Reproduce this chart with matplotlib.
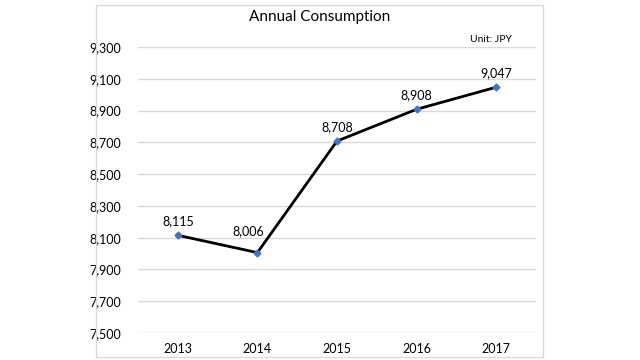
import matplotlib
matplotlib.use("Agg")
import matplotlib.pyplot as plt
from matplotlib.patches import Rectangle

years = ["2013", "2014", "2015", "2016", "2017"]
values = [8115, 8006, 8708, 8908, 9047]
yticks = [7500, 7700, 7900, 8100, 8300, 8500, 8700, 8900, 9100, 9300]

plt.rcParams['font.family'] = ['Lato', 'DejaVu Sans']

fig = plt.figure(figsize=(6.4, 3.6), dpi=100)
fig.patch.set_facecolor('white')
fig.add_artist(Rectangle((95.5/640, 1 - 356.5/360), (543 - 95.5)/640, (356.5 - 4.5)/360,
                         transform=fig.transFigure, fill=False, edgecolor='#d9d9d9', lw=1))

ax = fig.add_axes([138/640, 1 - 333/360, (536 - 138)/640, (333 - 47)/360])
x = list(range(len(years)))
ax.plot(x, values, color='black', lw=2, marker='D', markersize=3.5,
        markerfacecolor='#4472C4', markeredgecolor='#4472C4', zorder=3)
label_offsets = [(0, 6), (-6.5, 11), (0, 6), (0, 6), (0, 6)]
for xi, v, off in zip(x, values, label_offsets):
    ax.annotate(f"{v:,}", (xi, v), xytext=off, textcoords='offset points',
                ha='center', va='bottom', fontsize=9, color='#000000')

ax.set_xlim(-0.5, len(years) - 0.5)
ax.set_ylim(7500, 9300)
ax.set_yticks(yticks)
ax.set_yticklabels([f"{t:,}" for t in yticks])
ax.set_xticks(x)
ax.set_xticklabels(years)
ax.grid(axis='y', color='#d9d9d9', lw=1)
ax.set_axisbelow(True)
for s in ax.spines.values():
    s.set_visible(False)
ax.tick_params(length=0, labelsize=9, colors='#000000')
ax.tick_params(axis='y', pad=12)
ax.tick_params(axis='x', pad=7)

fig.text(320/640, 1 - 17/360, "Annual Consumption", ha='center', va='center', fontsize=11)
fig.text(512/640, 1 - 39/360, "Unit: JPY", ha='right', va='center', fontsize=7.5)

fig.savefig("out.png", dpi=100)
